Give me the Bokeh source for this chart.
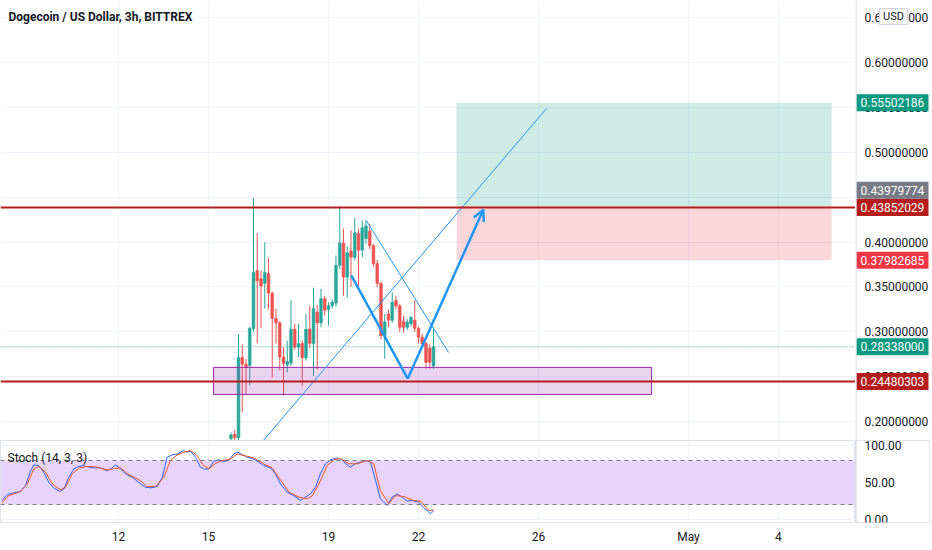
from bokeh.plotting import figure
from bokeh.layouts import column, row
from bokeh.models import (ColumnDataSource, Range1d, FixedTicker, Span, BoxAnnotation,
                          Label, Arrow, OpenHead)
from bokeh.core.properties import value
from bokeh.embed import file_html
from bokeh.resources import INLINE

# ---------------- data ----------------
TITLE = "Dogecoin / US Dollar, 3h, BITTREX"
STOCH_TITLE = "Stoch (14, 3, 3)"

# x is "day of April" (May 1 = 31)
last_candle_day = 22.5      # Apr 22, 12:00
candle_step = 0.125         # 3h

opens = [0.181, 0.186, 0.182, 0.2715, 0.264, 0.2626, 0.3038, 0.368, 0.359, 0.354,
         0.365, 0.343, 0.315, 0.310, 0.272, 0.263, 0.265, 0.303, 0.283, 0.287,
         0.271, 0.303, 0.287, 0.322, 0.310, 0.337, 0.325, 0.329, 0.332, 0.374,
         0.399, 0.361, 0.390, 0.383, 0.4096, 0.391, 0.404, 0.412, 0.396, 0.376,
         0.354, 0.296, 0.320, 0.313, 0.335, 0.329, 0.312, 0.305, 0.309, 0.313,
         0.304, 0.294, 0.287, 0.282, 0.262]
highs = [0.188, 0.191, 0.297, 0.286, 0.270, 0.306, 0.4486, 0.410, 0.368, 0.400,
         0.382, 0.345, 0.326, 0.312, 0.283, 0.290, 0.335, 0.309, 0.309, 0.290,
         0.320, 0.329, 0.349, 0.330, 0.348, 0.340, 0.333, 0.336, 0.385, 0.440,
         0.415, 0.395, 0.413, 0.427, 0.415, 0.424, 0.424, 0.420, 0.398, 0.380,
         0.356, 0.320, 0.325, 0.344, 0.340, 0.331, 0.318, 0.314, 0.318, 0.335,
         0.306, 0.298, 0.289, 0.286, 0.305]
lows = [0.178, 0.179, 0.178, 0.210, 0.231, 0.2403, 0.300, 0.287, 0.304, 0.326,
        0.325, 0.249, 0.287, 0.257, 0.229, 0.255, 0.262, 0.280, 0.272, 0.240,
        0.268, 0.282, 0.251, 0.258, 0.305, 0.318, 0.307, 0.326, 0.328, 0.370,
        0.3405, 0.338, 0.350, 0.380, 0.349, 0.383, 0.398, 0.392, 0.372, 0.350,
        0.292, 0.270, 0.305, 0.310, 0.325, 0.300, 0.299, 0.302, 0.306, 0.300,
        0.287, 0.283, 0.259, 0.259, 0.259]
closes = [0.185, 0.182, 0.2715, 0.264, 0.261, 0.3038, 0.366, 0.357, 0.351, 0.366,
          0.343, 0.315, 0.310, 0.272, 0.265, 0.267, 0.303, 0.283, 0.287, 0.271,
          0.303, 0.287, 0.326, 0.310, 0.337, 0.324, 0.329, 0.333, 0.374, 0.399,
          0.361, 0.388, 0.383, 0.410, 0.391, 0.416, 0.418, 0.396, 0.376, 0.354,
          0.296, 0.311, 0.313, 0.333, 0.329, 0.305, 0.305, 0.311, 0.316, 0.304,
          0.294, 0.287, 0.266, 0.266, 0.28338]

stoch_k_t = [8.12, 8.29, 8.51, 8.73, 8.90, 9.07, 9.18, 9.34, 9.51, 9.68,
             9.84, 10.04, 10.18, 10.34, 10.51, 10.68, 10.84, 11.01, 11.18, 11.40,
             11.62, 11.79, 11.90, 12.07, 12.23, 12.46, 12.68, 12.90, 13.07, 13.29,
             13.46, 13.62, 13.79, 13.96, 14.16, 14.29, 14.40, 14.57, 14.73, 14.87,
             15.01, 15.18, 15.34, 15.49, 15.68, 15.84, 15.98, 16.12, 16.29, 16.51,
             16.68, 16.84, 17.07, 17.23, 17.40, 17.62, 17.84, 18.07, 18.23, 18.40,
             18.57, 18.73, 18.90, 19.07, 19.29, 19.46, 19.57, 19.73, 19.90, 20.07,
             20.23, 20.40, 20.57, 20.73, 20.96, 21.12, 21.29, 21.46, 21.62, 21.79,
             22.01, 22.18, 22.40, 22.51]
stoch_k = [25.5, 33.6, 35.9, 37.7, 45.9, 66, 74, 73, 64, 50,
           42.7, 38, 41, 57, 68.6, 72, 73, 71, 70, 70,
           66, 70, 74, 68.6, 62, 57, 50, 43.6, 42.7, 44.5,
           57, 84.5, 87.7, 89, 93.6, 91.4, 92.7, 84.5, 71, 68,
           68.6, 79, 81, 78.6, 80, 89, 91.4, 88, 84.5, 82,
           77.7, 73, 70, 62, 48, 37, 32, 25.5, 30, 34.5,
           43.6, 62, 75.5, 81, 83.6, 81, 75.5, 71, 76, 77.7,
           80, 77.7, 52.7, 27.7, 18.6, 30, 34.5, 30, 24.5, 25.5,
           23, 15.5, 7.3, 11.8]
stoch_d_t = [8.12, 8.34, 8.73, 8.96, 9.18, 9.34, 9.57, 9.79, 10.07, 10.23,
             10.46, 10.68, 10.96, 11.29, 11.62, 11.84, 12.07, 12.29, 12.73, 12.96,
             13.23, 13.51, 13.73, 13.96, 14.18, 14.40, 14.62, 14.84, 15.01, 15.23,
             15.46, 15.73, 15.96, 16.18, 16.51, 16.84, 17.12, 17.34, 17.68, 18.01,
             18.29, 18.46, 18.68, 18.96, 19.18, 19.40, 19.68, 19.96, 20.29, 20.51,
             20.73, 21.01, 21.23, 21.51, 21.84, 22.07, 22.34, 22.51]
stoch_d = [23, 32, 37.7, 48, 68.6, 72, 64, 48, 40, 43.6,
           62, 69.5, 72, 71, 67, 68.6, 70, 62, 52.7, 44.5,
           44.5, 57, 80, 87.7, 91.4, 93.6, 86.8, 73, 68.6, 76,
           80, 82, 89, 86.8, 83.6, 75.5, 70, 57, 37, 30,
           27.7, 32, 48, 73, 81, 82.7, 75.5, 75.5, 80, 75.5,
           39, 21, 32, 31, 25.5, 24.5, 11.8, 12.7]

price_ticks = [0.20, 0.25, 0.30, 0.35, 0.40, 0.45, 0.50, 0.55, 0.60, 0.65]
stoch_ticks = [0, 50, 100]
date_ticks = [12, 15, 19, 22, 26, 31, 34]
date_labels = ["12", "15", "19", "22", "26", "May", "4"]
currency = "USD"

# drawings (data space)
resistance = 0.43852029
support = 0.24480303
last_price = 0.28338
zone_x = [15.17, 29.77]
zone_y = [0.2303, 0.2604]
pos_x = [23.27, 35.77]
pos_target = 0.55502186
pos_entry = 0.43979774
pos_stop = 0.37982685
diag_x = [16.65, 26.27]
diag_y = [0.172, 0.5488]
chan_x = [20.26, 23.0]
chan_y = [0.4241, 0.2771]
zig_x = [19.76, 21.64, 24.16]
zig_y = [0.3628, 0.2478, 0.436]

# price-scale badges: value, colour, vertical nudge in px (to avoid overlap)
badge_values = [pos_target, pos_entry, resistance, pos_stop, last_price, support]
badge_colors = ["#089981", "#787b86", "#b71c1c", "#f23645", "#089981", "#b71c1c"]
badge_nudge_px = [0, 16, 0, 0, 0, 0]

# ---------------- styling ----------------
FONT = "Roboto"
UP, DOWN = "#26a69a", "#ef5350"
GRID = "#f0f3fa"
TEXT = "#131722"
BLUE = "#2196f3"
DARKRED = "#b71c1c"
AXISLINE = "#d1d4dc"
FRAME_W = 855
AXIS_W = 75
MAIN_H = 440
STOCH_H = 82
XAXIS_H = 26

x_range = Range1d(8.067, 36.567)
price_range = Range1d(0.1790, 0.6690)
stoch_range = Range1d(-4.55, 107.3)

common = dict(toolbar_location=None, output_backend="svg",
              min_border_left=0, min_border_right=0, min_border_top=0,
              background_fill_color="white", border_fill_color="white")

# ---------------- main price pane ----------------
p = figure(frame_width=FRAME_W, frame_height=MAIN_H, x_range=x_range, y_range=price_range,
           x_axis_location=None, y_axis_location=None, min_border_bottom=0,
           outline_line_color=None, **common)
for g in p.xgrid:
    g.ticker = FixedTicker(ticks=date_ticks)
    g.grid_line_color = GRID
for g in p.ygrid:
    g.ticker = FixedTicker(ticks=price_ticks)
    g.grid_line_color = GRID

# position boxes
p.quad(left=[pos_x[0]], right=[pos_x[1]], bottom=[pos_entry], top=[pos_target],
       fill_color="#089981", fill_alpha=0.2, line_color=None)
p.quad(left=[pos_x[0]], right=[pos_x[1]], bottom=[pos_stop], top=[pos_entry],
       fill_color="#f23645", fill_alpha=0.2, line_color=None)

# candles
N = len(opens)
times = [last_candle_day - (N - 1 - i) * candle_step for i in range(N)]
cols = [UP if c >= o else DOWN for o, c in zip(opens, closes)]
src = ColumnDataSource(dict(
    t=times, h=highs, l=lows,
    top=[max(a, b) for a, b in zip(opens, closes)],
    bot=[min(a, b) for a, b in zip(opens, closes)],
    col=cols))
p.segment(x0="t", y0="h", x1="t", y1="l", line_color="col", line_width=1, source=src)
p.vbar(x="t", width=0.09, top="top", bottom="bot", fill_color="col",
       line_color="col", line_width=0.6, source=src)

# support zone
p.quad(left=[zone_x[0]], right=[zone_x[1]], bottom=[zone_y[0]], top=[zone_y[1]],
       fill_color="#9c27b0", fill_alpha=0.2, line_color="#9c27b0", line_width=1)

# trend lines / pattern
p.line(diag_x, diag_y, line_color=BLUE, line_width=1)
p.line(chan_x, chan_y, line_color=BLUE, line_width=1)
p.line(zig_x[:2], zig_y[:2], line_color=BLUE, line_width=2.5)
p.add_layout(Arrow(end=OpenHead(size=11, line_color=BLUE, line_width=2.5),
                   x_start=zig_x[1], y_start=zig_y[1], x_end=zig_x[2], y_end=zig_y[2],
                   line_color=BLUE, line_width=2.5))

p.add_layout(Span(location=last_price, dimension="width", line_color=UP,
                  line_width=1, line_dash="1 2"))
p.add_layout(Span(location=resistance, dimension="width", line_color=DARKRED, line_width=2))
p.add_layout(Span(location=support, dimension="width", line_color=DARKRED, line_width=2))

p.add_layout(Label(x=8, x_units="screen", y=0.651, text=TITLE, text_font=FONT,
                   text_font_size="12px", text_font_style="bold", text_color=TEXT,
                   text_baseline="middle"))

# ---------------- price scale (right) ----------------
pa = figure(frame_width=AXIS_W, frame_height=MAIN_H, x_range=Range1d(0, AXIS_W),
            y_range=price_range, x_axis_location=None, y_axis_location=None,
            min_border_bottom=0, outline_line_color=None, **common)
for g in pa.grid:
    g.visible = False
pa.add_layout(Span(location=0.5, dimension="height", line_color=AXISLINE, line_width=1))
pa.text(x=[9] * len(price_ticks), y=price_ticks,
        text=["%.8f" % t for t in price_ticks], text_font=value(FONT),
        text_font_size="12px", text_color=TEXT, text_baseline="middle")

px_per_unit = (price_range.end - price_range.start) / MAIN_H
badge_y = [v + n * px_per_unit for v, n in zip(badge_values, badge_nudge_px)]
bsrc = ColumnDataSource(dict(y=badge_y, c=badge_colors,
                             t=["%.8f" % v for v in badge_values]))
pa.rect(x=37, y="y", width=72, height=17, height_units="screen",
        fill_color="c", line_color=None, source=bsrc)
pa.text(x=5, y="y", text="t", text_font=value(FONT), text_font_size="12px",
        text_color="white", text_baseline="middle", source=bsrc)

usd_y = 0.6512
pa.rect(x=[38], y=[usd_y], width=28, height=16, height_units="screen",
        fill_color="white", line_color=AXISLINE, line_width=1)
pa.text(x=[38], y=[usd_y], text=[currency], text_font=value(FONT),
        text_font_size="11px", text_color=TEXT, text_baseline="middle",
        text_align="center")

# ---------------- stochastic pane ----------------
s = figure(frame_width=FRAME_W, frame_height=STOCH_H, x_range=x_range, y_range=stoch_range,
           x_axis_location="below", y_axis_location=None, min_border_bottom=XAXIS_H,
           outline_line_color="#e0e3eb", **common)
s.add_layout(BoxAnnotation(bottom=20, top=80, fill_color="#e8d3fc", fill_alpha=1.0,
                           line_color=None, level="underlay"))
for g in s.xgrid:
    g.grid_line_color = GRID
for g in s.ygrid:
    g.ticker = FixedTicker(ticks=stoch_ticks)
    g.grid_line_color = GRID

ax = s.xaxis[0]
ax.ticker = FixedTicker(ticks=date_ticks)
ax.major_label_overrides = {t: lab for t, lab in zip(date_ticks, date_labels)}
ax.major_tick_line_color = None
ax.minor_tick_line_color = None
ax.major_tick_out = 0
ax.major_label_standoff = 7
ax.axis_line_color = None
ax.major_label_text_font = FONT
ax.major_label_text_font_size = "12px"
ax.major_label_text_color = TEXT

s.add_layout(Span(location=80, dimension="width", line_color="#787b86",
                  line_width=1, line_dash="4 4"))
s.add_layout(Span(location=20, dimension="width", line_color="#787b86",
                  line_width=1, line_dash="4 4"))

s.line(stoch_k_t, stoch_k, line_color="#2962ff", line_width=1)
s.line(stoch_d_t, stoch_d, line_color="#f4511e", line_width=1)

s.add_layout(Label(x=7, x_units="screen", y=84, text=STOCH_TITLE, text_font=FONT,
                   text_font_size="12px", text_color=TEXT, text_baseline="middle"))

# stochastic scale (right)
sa = figure(frame_width=AXIS_W, frame_height=STOCH_H, x_range=Range1d(0, AXIS_W),
            y_range=stoch_range, x_axis_location=None, y_axis_location=None,
            min_border_bottom=XAXIS_H, outline_line_color="#e0e3eb", **common)
for g in sa.grid:
    g.visible = False
sa.add_layout(Span(location=0.5, dimension="height", line_color=AXISLINE, line_width=1))
sa.text(x=[9] * len(stoch_ticks), y=stoch_ticks,
        text=["%.2f" % t for t in stoch_ticks], text_font=value(FONT),
        text_font_size="12px", text_color=TEXT, text_baseline="middle")

layout = row(column(p, s), column(pa, sa))
open("out.html", "w").write(file_html(layout, INLINE))
